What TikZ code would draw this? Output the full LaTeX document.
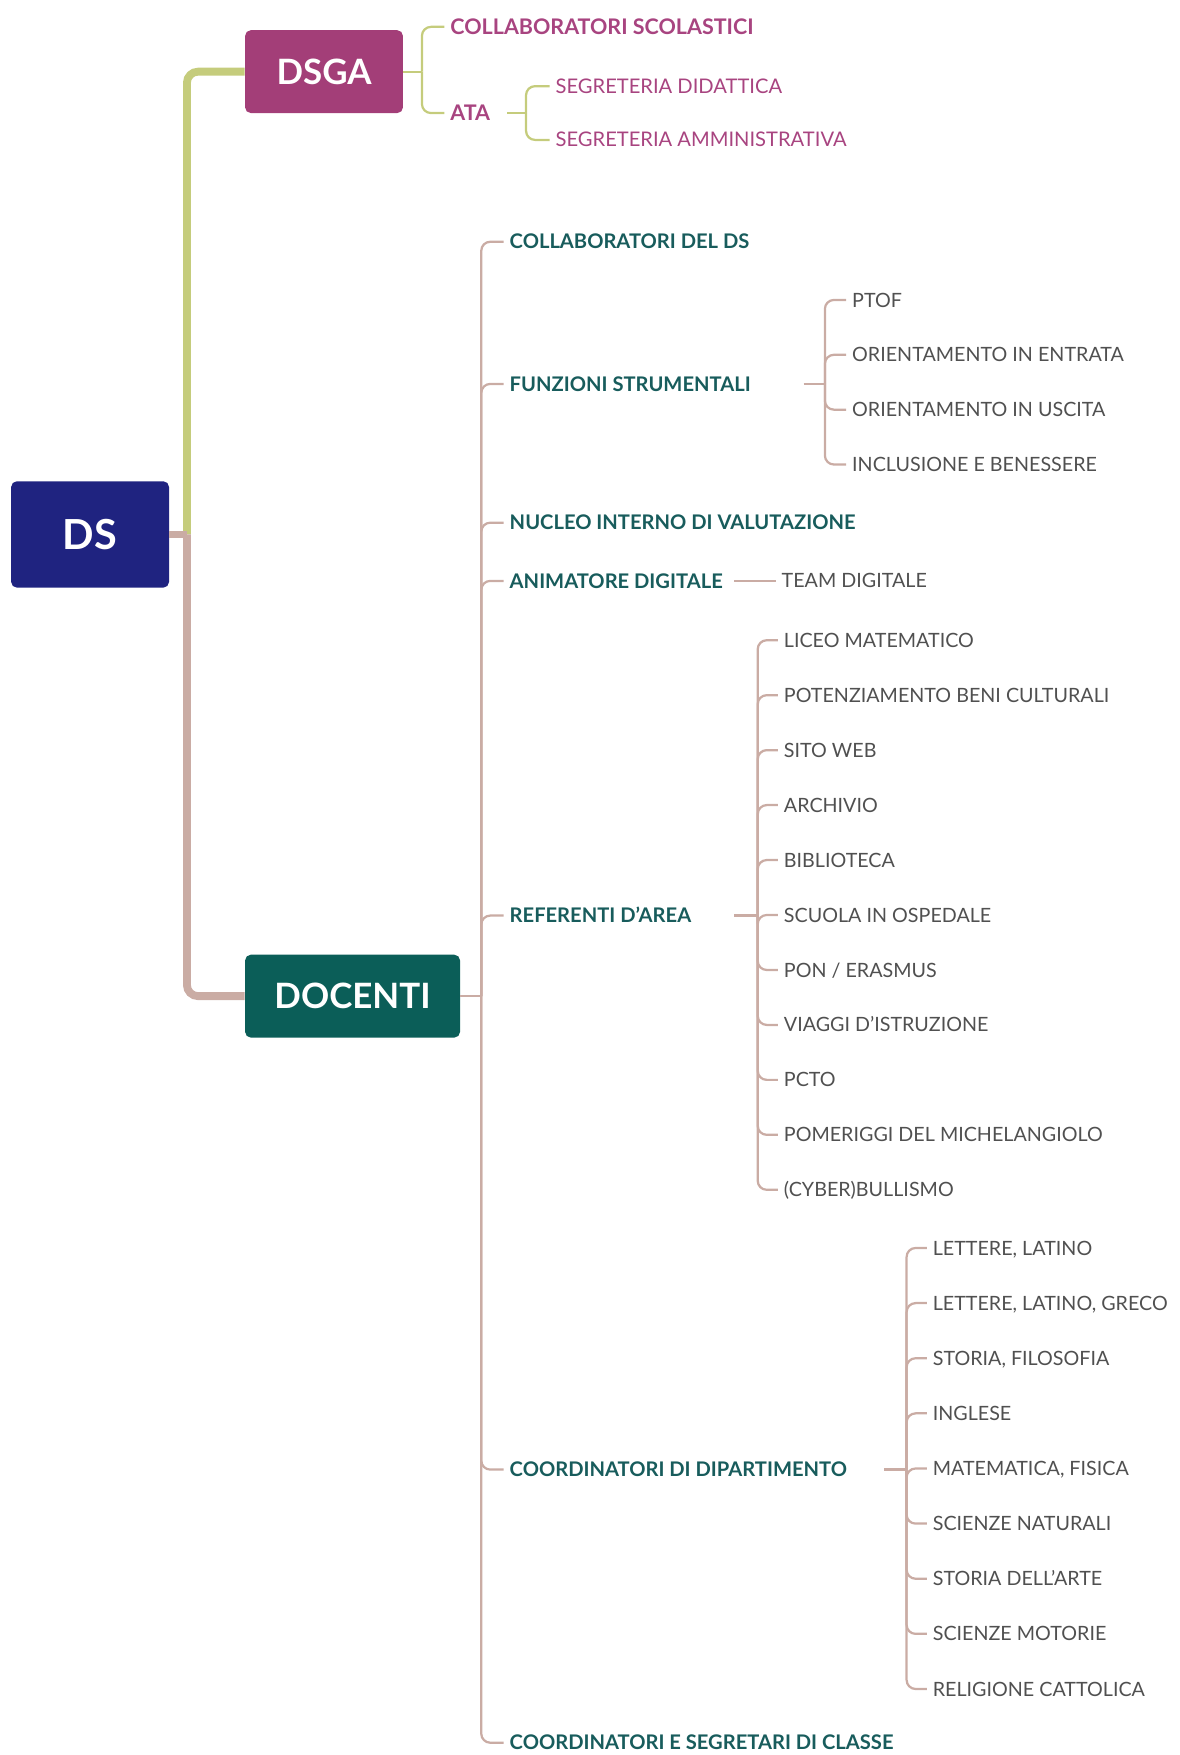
\documentclass[tikz,border=0pt]{standalone}
\usepackage{fontspec}
\setmainfont{Lato}
\definecolor{dsblue}{RGB}{31,35,128}
\definecolor{dsgamag}{RGB}{163,62,120}
\definecolor{docteal}{RGB}{11,94,88}
\definecolor{lgreen}{RGB}{197,204,124}
\definecolor{rose}{RGB}{202,172,164}
\definecolor{mtext}{RGB}{168,68,128}
\definecolor{ttext}{RGB}{24,92,92}
\definecolor{gtext}{RGB}{80,80,80}
\begin{document}
\begin{tikzpicture}[x=0.5pt,y=-0.5pt,
  box/.style={rounded corners=2.5pt,text=white,inner sep=0pt,font=\bfseries\fontsize{15.6}{18}\selectfont},
  lvl/.style={anchor=west,inner xsep=2.5pt,inner ysep=0pt,text height=6.4pt,text depth=0pt,font=\bfseries\fontsize{9}{10}\selectfont},
  leaf/.style={anchor=west,inner xsep=2.5pt,inner ysep=0pt,text height=6.3pt,text depth=0pt,font=\fontsize{8.8}{10}\selectfont,text=gtext},
  twig/.style={line width=1pt,rounded corners=4pt},
  trunk/.style={line width=3.5pt,rounded corners=5pt}]%
% mind map, sheet of 1054 x 1568 units
\useasboundingbox (0,0) rectangle (1054,1568);
\node[box,fill=dsblue,minimum width=70.5pt,minimum height=47.5pt,font=\bfseries\fontsize{18.5}{22}\selectfont] (ds) at (80.5,477.5) {DS};
\node[box,fill=dsgamag,minimum width=70.5pt,minimum height=37pt] (dsga) at (289.5,64) {DSGA};
\node[box,fill=docteal,minimum width=96pt,minimum height=37pt] (doc) at (315,890) {DOCENTI};
\coordinate (hub) at (167,477.5);
\draw[trunk,lgreen] (hub) |- (dsga.west);
\draw[trunk,rose] (hub) |- (doc.west);
\draw[trunk,rose] (ds.east) -- (hub);
% DSGA side
\coordinate (dsgab) at (377,64);
\node[lvl,text=mtext,font=\bfseries\fontsize{9.6}{11}\selectfont] (csc) at (397,24) {COLLABORATORI SCOLASTICI};
\node[lvl,text=mtext,font=\bfseries\fontsize{9.6}{11}\selectfont] (ata) at (397,101) {ATA};
\draw[twig,lgreen] (dsga.east) -- (dsgab);
\draw[twig,lgreen] (dsgab) |- (csc.west);
\draw[twig,lgreen] (dsgab) |- (ata.west);
\coordinate (atab) at (470,101);
\node[leaf,text=mtext,font=\fontsize{9}{10}\selectfont] (sd) at (491,77) {SEGRETERIA DIDATTICA};
\node[leaf,text=mtext,font=\fontsize{9}{10}\selectfont] (sa) at (491,125) {SEGRETERIA AMMINISTRATIVA};
\draw[twig,lgreen] ([xshift=5pt]ata.east) -- (atab);
\draw[twig,lgreen] (atab) |- (sd.west);
\draw[twig,lgreen] (atab) |- (sa.west);
% DOCENTI side
\coordinate (docb) at (430,890);
\draw[twig,rose] (doc.east) -- (docb);
\node[lvl,text=ttext] (cds) at (450,216) {COLLABORATORI DEL DS};
\node[lvl,text=ttext] (fs) at (450,343) {FUNZIONI STRUMENTALI};
\node[lvl,text=ttext] (niv) at (450,467) {NUCLEO INTERNO DI VALUTAZIONE};
\node[lvl,text=ttext] (ad) at (450,519) {ANIMATORE DIGITALE};
\node[lvl,text=ttext] (ra) at (450,818) {REFERENTI D'AREA};
\node[lvl,text=ttext] (cdd) at (450,1313) {COORDINATORI DI DIPARTIMENTO};
\node[lvl,text=ttext] (csc2) at (450,1557) {COORDINATORI E SEGRETARI DI CLASSE};
\foreach \n in {cds,fs,niv,ad,ra,cdd,csc2}
  \draw[twig,rose] (docb) |- (\n.west);
% funzioni strumentali
\coordinate (fsa) at (718,343);
\coordinate (fsb) at (737,343);
\draw[twig,rose] (fsa) -- (fsb);
\foreach \t [count=\i] in {PTOF,ORIENTAMENTO IN ENTRATA,ORIENTAMENTO IN USCITA,INCLUSIONE E BENESSERE}{
  \node[leaf] (fs\i) at (756,{268+49*(\i-1)}) {\t};
  \draw[twig,rose] (fsb) |- (fs\i.west);
}
% animatore digitale
\coordinate (ada) at (656,519);
\node[leaf] (td) at (693,519) {TEAM DIGITALE};
\draw[twig,rose] (ada) -- (td.west);
% referenti d'area
\coordinate (raa) at (656,818);
\coordinate (rab) at (677,818);
\draw[twig,rose] (raa) -- (rab);
\foreach \t [count=\i] in {LICEO MATEMATICO,POTENZIAMENTO BENI CULTURALI,SITO WEB,ARCHIVIO,BIBLIOTECA,SCUOLA IN OSPEDALE,PON / ERASMUS,VIAGGI D'ISTRUZIONE,PCTO,POMERIGGI DEL MICHELANGIOLO,(CYBER)BULLISMO}{
  \node[leaf] (rf\i) at (695,{572+49.1*(\i-1)}) {\t};
  \draw[twig,rose] (rab) |- (rf\i.west);
}
% coordinatori di dipartimento
\coordinate (cda) at (790,1313);
\coordinate (cdb) at (810,1313);
\draw[twig,rose] (cda) -- (cdb);
\foreach \t [count=\i] in {{LETTERE, LATINO},{LETTERE, LATINO, GRECO},{STORIA, FILOSOFIA},INGLESE,{MATEMATICA, FISICA},SCIENZE NATURALI,STORIA DELL'ARTE,SCIENZE MOTORIE,RELIGIONE CATTOLICA}{
  \node[leaf] (cd\i) at (828,{1115+49.25*(\i-1)}) {\t};
  \draw[twig,rose] (cdb) |- (cd\i.west);
}
\end{tikzpicture}
\end{document}
